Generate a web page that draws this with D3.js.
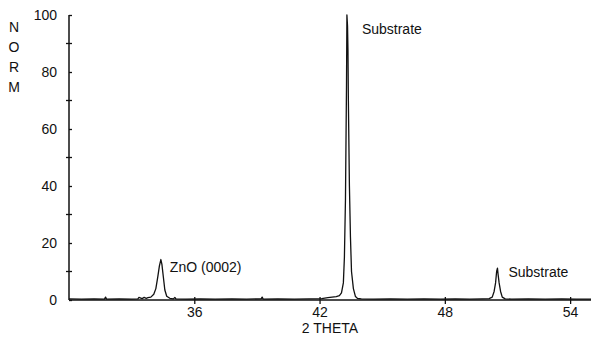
<!DOCTYPE html>
<html>
<head>
<meta charset="utf-8">
<script src="https://cdn.jsdelivr.net/npm/d3@7"></script>
<style>
  body { margin: 0; background: #fff; }
  text { font-family: Arial, "Liberation Sans", sans-serif; fill: #111; }
</style>
</head>
<body>
<div id="chart"></div>
<script>
// 2-theta positions (deg) and normalised intensity
const theta = [30.0, 30.6, 31.2, 31.7, 31.75, 31.8, 32.4, 33.0, 33.3, 33.35, 33.5, 33.6, 33.7,
  33.78, 33.92, 34.06, 34.16, 34.25, 34.33, 34.40, 34.45, 34.52, 34.59, 34.68, 34.83, 35.0, 35.07, 35.12,
  35.6, 36.3, 37.0, 37.8, 38.5, 39.2, 39.25, 39.3, 40.0, 40.8, 41.5, 42.1, 42.4, 42.6, 42.8,
  42.95, 43.05, 43.14, 43.19, 43.24, 43.29, 43.31, 43.34, 43.36, 43.38, 43.43, 43.48, 43.53, 43.62, 43.72, 43.81,
  44.0, 44.6, 45.4, 46.2, 47.0, 47.8, 48.5, 49.2, 49.8,
  50.12, 50.27, 50.36, 50.43, 50.48, 50.52, 50.55, 50.60, 50.67, 50.75, 50.89,
  51.2, 52.0, 52.8, 53.6, 54.3, 55.0];
const norm = [0.4, 0.3, 0.4, 0.3, 1.0, 0.3, 0.4, 0.3, 0.4, 0.9, 0.5, 0.9, 0.6,
  0.8, 1.0, 2.0, 4.0, 8.0, 12.0, 14.2, 12.5, 8.0, 3.5, 1.3, 0.6, 0.4, 0.9, 0.4,
  0.3, 0.4, 0.3, 0.4, 0.3, 0.4, 1.0, 0.3, 0.4, 0.3, 0.4, 0.5, 0.8, 1.0, 1.2,
  1.5, 2.5, 6.0, 15.0, 35.0, 75.0, 100.0, 96.0, 88.0, 70.0, 40.0, 22.0, 10.0, 4.0, 1.2, 0.6,
  0.4, 0.3, 0.4, 0.3, 0.4, 0.3, 0.4, 0.3, 0.4,
  0.5, 1.0, 3.0, 6.0, 10.0, 11.2, 9.0, 6.0, 3.0, 1.0, 0.4,
  0.3, 0.4, 0.3, 0.4, 0.3, 0.3];

const xTicks = [36, 42, 48, 54];
const yTicks = [0, 20, 40, 60, 80, 100];
const yMinor = [10, 30, 50, 70, 90];
const noteLabels = ["ZnO (0002)", "Substrate", "Substrate"];
const noteTheta = [34.40, 43.31, 50.52];
const noteNorm = [14.2, 100, 11.2];
// label placement relative to the peak tip, in pixels
const noteOffset = [[9, 12], [15, 19], [11, 9]];

const width = 592, height = 341;
const margin = {top: 15, right: 1, bottom: 41, left: 69};
const font = "Arial, 'Liberation Sans', sans-serif";

const svg = d3.select("#chart").append("svg")
    .attr("width", width)
    .attr("height", height);

const x = d3.scaleLinear().domain([30, 55]).range([margin.left, width - margin.right]);
const y = d3.scaleLinear().domain([0, 100]).range([height - margin.bottom, margin.top]);

// trace
const data = theta.map((t, i) => ({t, v: norm[i]}));
const line = d3.line().x(d => x(d.t)).y(d => y(d.v));

svg.append("path")
    .datum(data)
    .attr("fill", "none")
    .attr("stroke", "#111")
    .attr("stroke-width", 1.3)
    .attr("stroke-linejoin", "round")
    .attr("d", line);

// x-axis
const xAxis = svg.append("g")
    .attr("transform", `translate(0,${y(0)})`)
    .call(d3.axisBottom(x).tickValues(xTicks).tickSize(4).tickPadding(3).tickFormat(d3.format("d")))
    .call(g => g.select(".domain").attr("stroke", "#111").attr("stroke-width", 1.5).attr("d", `M${x(30)},0H${x(55)}`));
xAxis.selectAll(".tick line").attr("y1", -3).attr("stroke", "#111").attr("stroke-width", 1.3);
xAxis.selectAll(".tick text").style("font-size", "14px").style("font-family", font).attr("fill", "#111");

// y-axis
const yAxis = svg.append("g")
    .attr("transform", `translate(${x(30)},0)`)
    .call(d3.axisLeft(y).tickValues(yTicks).tickSize(3).tickPadding(9))
    .call(g => g.select(".domain").attr("stroke", "#111").attr("stroke-width", 1.5).attr("d", `M0,${y(0)}V${y(100)}`));
yAxis.selectAll(".tick line").attr("x2", 3).attr("stroke", "#111").attr("stroke-width", 1.3);
yAxis.selectAll(".tick text").style("font-size", "14px").style("font-family", font).attr("fill", "#111");

yAxis.selectAll(".minor")
    .data(yMinor)
    .join("line")
    .attr("class", "minor")
    .attr("x1", -3).attr("x2", 3)
    .attr("y1", d => y(d)).attr("y2", d => y(d))
    .attr("stroke", "#111")
    .attr("stroke-width", 1.3);

// axis titles
svg.append("text")
    .attr("x", 330)
    .attr("y", 333)
    .attr("text-anchor", "middle")
    .style("font-size", "14px")
    .text("2 THETA");

svg.append("g")
    .selectAll("text")
    .data("NORM".split(""))
    .join("text")
    .attr("x", 14)
    .attr("y", (d, i) => 32 + i * 20)
    .attr("text-anchor", "middle")
    .style("font-size", "14px")
    .text(d => d);

// peak labels
svg.append("g")
    .selectAll("text")
    .data(noteLabels)
    .join("text")
    .attr("x", (d, i) => x(noteTheta[i]) + noteOffset[i][0])
    .attr("y", (d, i) => y(noteNorm[i]) + noteOffset[i][1])
    .style("font-size", "14px")
    .text(d => d);
</script>
</body>
</html>
